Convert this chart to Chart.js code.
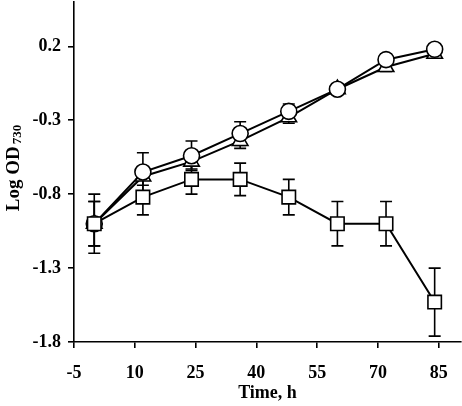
<!DOCTYPE html>
<html>
<head>
<meta charset="utf-8">
<script src="https://cdn.jsdelivr.net/npm/chart.js@4.4.1/dist/chart.umd.min.js"></script>
<style>
    html, body { margin: 0; padding: 0; background: #fff; }
    #chart { display: block; }
</style>
</head>
<body>
<canvas id="chart" width="462" height="406"></canvas>
<script>
// Sampling times (h)
const times = [0, 12, 24, 36, 48, 60, 72, 84];

// Log OD730 per series, with error bar half-widths
const circleVals = [-1.0, -0.65, -0.54, -0.39, -0.24, -0.09, 0.11, 0.18];
const circleErr  = [0.15, 0.13, 0.10, 0.08, 0.05, 0.03, 0.04, 0.03];
const triangleVals = [-1.0, -0.68, -0.58, -0.44, -0.28, -0.09, 0.06, 0.15];
const triangleErr  = [0.15, 0.06, 0.05, 0.05, 0.04, 0.03, 0.03, 0.03];
const squareVals = [-1.0, -0.82, -0.70, -0.70, -0.82, -1.0, -1.0, -1.53];
const squareErr  = [0.20, 0.12, 0.10, 0.11, 0.12, 0.15, 0.15, 0.23];

// Axis ticks
const xTicks = [-5, 10, 25, 40, 55, 70, 85];
const yTicks = [0.2, -0.3, -0.8, -1.3, -1.8];

const FONT = 'Liberation Serif, Times New Roman, serif';

function points(vals, errs) {
    return times.map((t, i) => ({ x: t, y: vals[i], err: errs[i] }));
}

function makeSeries(label, vals, errs, style, radius, order) {
    return {
        label: label,
        data: points(vals, errs),
        borderColor: '#000',
        borderWidth: 2,
        backgroundColor: '#fff',
        pointStyle: style,
        pointRadius: radius,
        pointBorderWidth: 1.6,
        pointBorderColor: '#000',
        pointBackgroundColor: '#fff',
        tension: 0,
        clip: false,
        order: order
    };
}

// no label overhang padding, the plot fills the canvas edge
function noPadding(scale) {
    scale.paddingLeft = scale.paddingRight = scale.paddingTop = scale.paddingBottom = 0;
}

/**
 * Error bars drawn under the markers
 */
const errorBars = {
    id: 'errorBars',
    beforeDatasetsDraw(chart) {
        const ctx = chart.ctx;
        const xs = chart.scales.x;
        const ys = chart.scales.y;
        ctx.save();
        ctx.strokeStyle = '#000';
        ctx.lineWidth = 1.6;
        chart.data.datasets.forEach(ds => {
            ds.data.forEach(p => {
                const px = xs.getPixelForValue(p.x);
                const top = ys.getPixelForValue(p.y + p.err);
                const bot = ys.getPixelForValue(p.y - p.err);
                ctx.beginPath();
                ctx.moveTo(px, top);
                ctx.lineTo(px, bot);
                ctx.moveTo(px - 6, top);
                ctx.lineTo(px + 6, top);
                ctx.moveTo(px - 6, bot);
                ctx.lineTo(px + 6, bot);
                ctx.stroke();
            });
        });
        ctx.restore();
    }
};

/**
 * Rotated y title with subscript
 */
const yTitle = {
    id: 'yTitle',
    afterDraw(chart) {
        const ctx = chart.ctx;
        const main = 'Log OD';
        const sub = '730';
        ctx.save();
        ctx.fillStyle = '#000';
        ctx.textBaseline = 'alphabetic';
        ctx.font = 'bold 19px ' + FONT;
        const wMain = ctx.measureText(main).width;
        ctx.font = 'bold 13px ' + FONT;
        const wSub = ctx.measureText(sub).width;
        const total = wMain + 2 + wSub;
        ctx.translate(19, 168);
        ctx.rotate(-Math.PI / 2);
        ctx.font = 'bold 19px ' + FONT;
        ctx.fillText(main, -total / 2, 0);
        ctx.font = 'bold 13px ' + FONT;
        ctx.fillText(sub, -total / 2 + wMain + 2, 2);
        ctx.restore();
    }
};

new Chart(document.getElementById('chart'), {
    type: 'line',
    data: {
        datasets: [
            makeSeries('circles', circleVals, circleErr, 'circle', 8, 1),
            makeSeries('triangles', triangleVals, triangleErr, 'triangle', 9, 2),
            makeSeries('squares', squareVals, squareErr, 'rect', 9.5, 0)
        ]
    },
    options: {
        responsive: false,
        animation: false,
        layout: { autoPadding: false, padding: { top: 2, right: 1, left: 0, bottom: 0 } },
        plugins: {
            legend: { display: false },
            tooltip: { enabled: false }
        },
        scales: {
            x: {
                type: 'linear',
                min: -5,
                max: 90.5,
                afterBuildTicks: scale => { scale.ticks = xTicks.map(v => ({ value: v })); },
                afterFit: scale => {
                    scale.height = 64;
                    noPadding(scale);
                },
                grid: { drawOnChartArea: false, drawTicks: true, tickLength: 6, color: '#000', lineWidth: 1.6 },
                border: { display: true, color: '#000', width: 1.6 },
                ticks: {
                    color: '#000',
                    padding: 15,
                    maxRotation: 0,
                    font: { family: FONT, size: 18, weight: 'bold' }
                },
                title: {
                    display: true,
                    text: 'Time, h',
                    color: '#000',
                    padding: { top: 0, bottom: 2 },
                    font: { family: FONT, size: 18, weight: 'bold' }
                }
            },
            y: {
                min: -1.8,
                max: 0.5,
                afterBuildTicks: scale => { scale.ticks = yTicks.map(v => ({ value: v })); },
                afterFit: scale => {
                    scale.width = 74;
                    noPadding(scale);
                },
                grid: { drawOnChartArea: false, drawTicks: true, tickLength: 6, color: '#000', lineWidth: 1.6 },
                border: { display: true, color: '#000', width: 1.6 },
                ticks: {
                    color: '#000',
                    padding: 7,
                    callback: v => v.toFixed(1),
                    font: { family: FONT, size: 18, weight: 'bold' }
                }
            }
        }
    },
    plugins: [errorBars, yTitle]
});
</script>
</body>
</html>
